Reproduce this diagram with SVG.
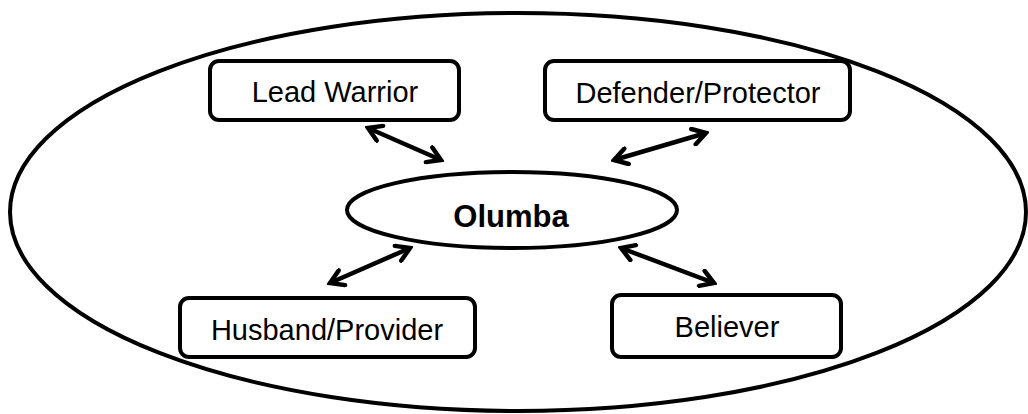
<svg xmlns="http://www.w3.org/2000/svg" width="1028" height="414" viewBox="0 0 1028 414">
<style>
.box{fill:#fff;stroke:#000;stroke-width:4}
.lbl{font-family:"Liberation Sans",Arial,sans-serif;font-size:29px;fill:#000;text-anchor:middle}
.con{stroke:#000;stroke-width:4.5;fill:none;marker-start:url(#ah);marker-end:url(#ah)}
</style>
<defs>
<marker id="ah" viewBox="0 0 20 20" refX="17" refY="10" markerWidth="20" markerHeight="20" markerUnits="userSpaceOnUse" orient="auto-start-reverse">
<path d="M4,2 L17,10 L4,18" fill="none" stroke="#000" stroke-width="4.5" stroke-linejoin="miter" stroke-linecap="round"/>
</marker>
</defs>
<g id="frame"><ellipse cx="518" cy="212" rx="508" ry="199" fill="none" stroke="#000" stroke-width="4"/></g>
<g id="lead-warrior"><rect class="box" x="210" y="61" width="249" height="59" rx="9"/><text class="lbl" x="335" y="102">Lead Warrior</text></g>
<g id="defender"><rect class="box" x="545" y="61" width="305" height="59" rx="9"/><text class="lbl" x="698" y="103">Defender/Protector</text></g>
<g id="olumba"><ellipse cx="512" cy="210" rx="165" ry="38" fill="#fff" stroke="#000" stroke-width="4"/><text x="511" y="227" font-family="Liberation Sans,Arial,sans-serif" font-size="31" font-weight="bold" text-anchor="middle">Olumba</text></g>
<g id="husband"><rect class="box" x="180" y="298" width="295" height="59" rx="9"/><text class="lbl" x="327" y="340">Husband/Provider</text></g>
<g id="believer"><rect class="box" x="612" y="295" width="229" height="62" rx="9"/><text class="lbl" x="727" y="337">Believer</text></g>
<g id="connectors">
<line class="con" x1="368" y1="128" x2="441" y2="160"/>
<line class="con" x1="706" y1="133" x2="614" y2="160"/>
<line class="con" x1="330" y1="283" x2="410" y2="248"/>
<line class="con" x1="621" y1="248" x2="714" y2="283"/>
</g>
</svg>
